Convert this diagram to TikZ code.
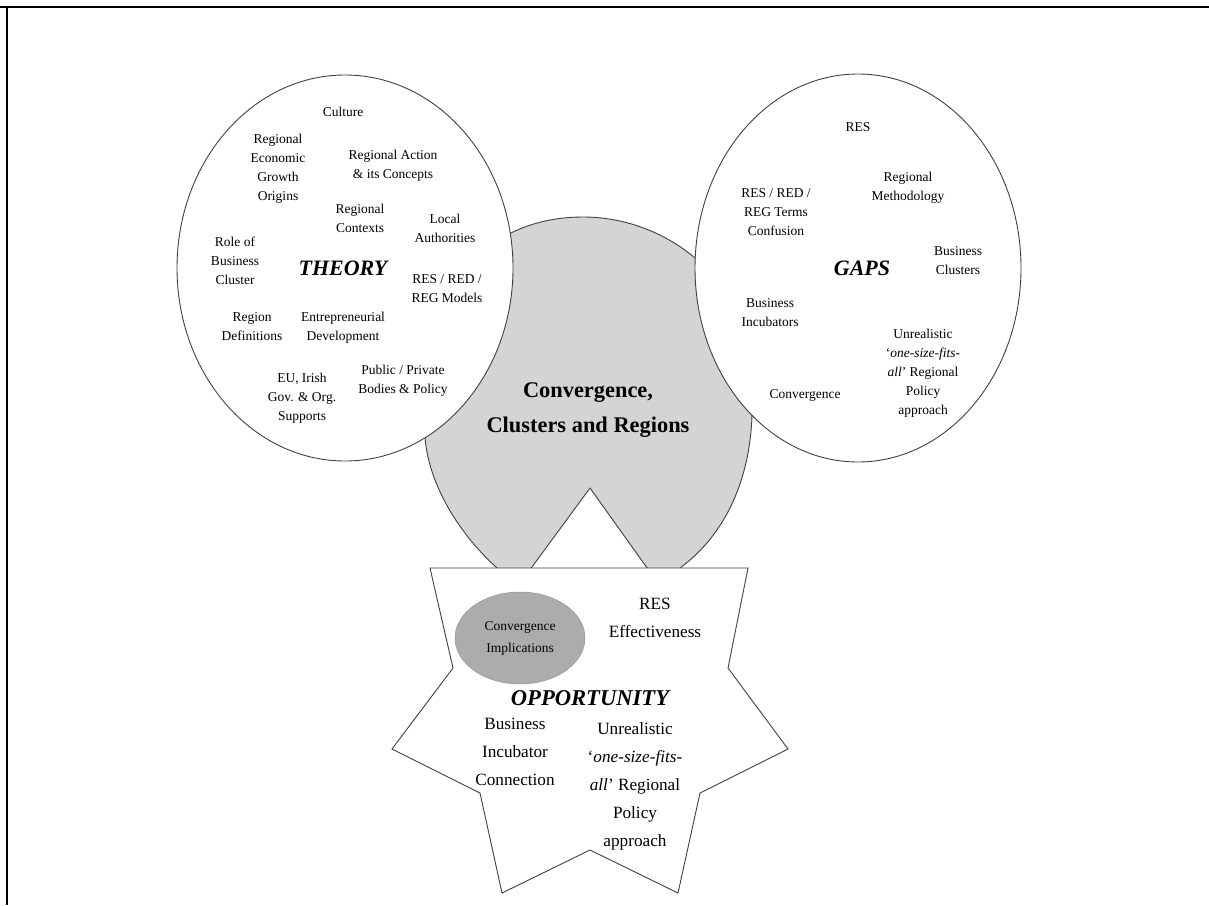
\documentclass[tikz,border=0pt]{standalone}
\usepackage{fontspec}
\setmainfont{Liberation Serif}
\usetikzlibrary{shapes.geometric}

\definecolor{lobegrey}{RGB}{212,212,212}
\definecolor{spotgrey}{RGB}{172,172,172}

\begin{document}
\begin{tikzpicture}[x=1pt,y=-1pt,
  outline/.style={draw=black!75, line width=0.9pt},
  bubble/.style={outline, ellipse, fill=white, inner sep=0pt},
  item/.style={align=center, font=\fontsize{13.5}{19}\selectfont, inner sep=0pt},
  bigitem/.style={align=center, font=\fontsize{17.2}{28}\selectfont, inner sep=0pt},
  heading/.style={font=\fontsize{22}{26}\selectfont\bfseries\itshape, inner sep=0pt},
]
\useasboundingbox (0,0) rectangle (1209,905);

% page frame
\draw[line width=2.2pt] (0,7) -- (1209,7);
\draw[line width=2pt] (7,7) -- (7,905);

% central shaded lobe shape (drawn first, partly covered by the bubbles and the star)
\draw[outline, fill=lobegrey, line join=round]
  (425,437) .. controls (410,300) and (480,217) .. (583,217)
            .. controls (680,217) and (770,300) .. (752,415)
            .. controls (750,480) and (725,535) .. (680,568)
  -- (660,586) -- (590,488) -- (518,586) -- (497,568)
            .. controls (455,530) and (428,480) .. cycle;

% the two literature bubbles
\node[bubble, minimum width=336, minimum height=386] (theory) at (345,268) {};
\node[bubble, minimum width=326, minimum height=388] (gaps) at (858,268) {};

% opportunity star
\draw[outline, fill=white]
  (430,568) -- (453,668) -- (392,749) -- (480,793) -- (502,893)
  -- (590,850) -- (678,893) -- (700,793) -- (788,749) -- (728,668)
  -- (748,568) -- cycle;

% shaded spot inside the star
\node[ellipse, fill=spotgrey, draw=spotgrey!80!black, line width=0.4pt,
      minimum width=130, minimum height=92, inner sep=0pt] (implspot) at (520,638) {};

% THEORY bubble contents
\node[item] (culture) at (343,112) {Culture};
\node[item] (origins) at (278,169) {Regional\\Economic\\Growth\\Origins};
\node[item] (action) at (393,166) {Regional Action\\\& its Concepts};
\node[item] (contexts) at (360,218) {Regional\\Contexts};
\node[item] (local) at (445,228) {Local\\Authorities};
\node[item] (role) at (235,261) {Role of\\Business\\Cluster};
\node[heading] (theoryhead) at (343,268) {THEORY};
\node[item] (models) at (447,289) {RES / RED /\\REG Models};
\node[item] (regdef) at (252,327) {Region\\Definitions};
\node[item] (entre) at (343,328) {Entrepreneurial\\Development};
\node[item] (eu) at (302,398) {EU, Irish\\Gov. \& Org.\\Supports};
\node[item] (bodies) at (403,381) {Public / Private\\Bodies \& Policy};

% GAPS bubble contents
\node[item] (gres) at (858,127) {RES};
\node[item] (method) at (908,188) {Regional\\Methodology};
\node[item] (terms) at (776,212) {RES / RED /\\REG Terms\\Confusion};
\node[item] (clusters) at (958,261) {Business\\Clusters};
\node[heading] (gapshead) at (862,268) {GAPS};
\node[item] (incub) at (770,313) {Business\\Incubators};
\node[item] (gunreal) at (923,373) {Unrealistic\\‘\textit{one-size-fits-}\\\textit{all}’ Regional\\Policy\\approach};
\node[item] (gconv) at (805,395) {Convergence};

% central title
\node[align=center, font=\fontsize{22.4}{35}\selectfont\bfseries, inner sep=0pt]
  (core) at (588,410) {Convergence,\\Clusters and Regions};

% OPPORTUNITY star contents
\node[align=center, font=\fontsize{13.5}{22}\selectfont, inner sep=0pt]
  (impl) at (implspot) {Convergence\\Implications};
\node[bigitem] (effect) at (655,618) {RES\\Effectiveness};
\node[heading, font=\fontsize{22.6}{26}\selectfont\bfseries\itshape] (opphead) at (590,698) {OPPORTUNITY};
\node[bigitem] (conn) at (515,752) {Business\\Incubator\\Connection};
\node[bigitem] (ounreal) at (635,786) {Unrealistic\\‘\textit{one-size-fits-}\\\textit{all}’ Regional\\Policy\\approach};

\end{tikzpicture}
\end{document}
